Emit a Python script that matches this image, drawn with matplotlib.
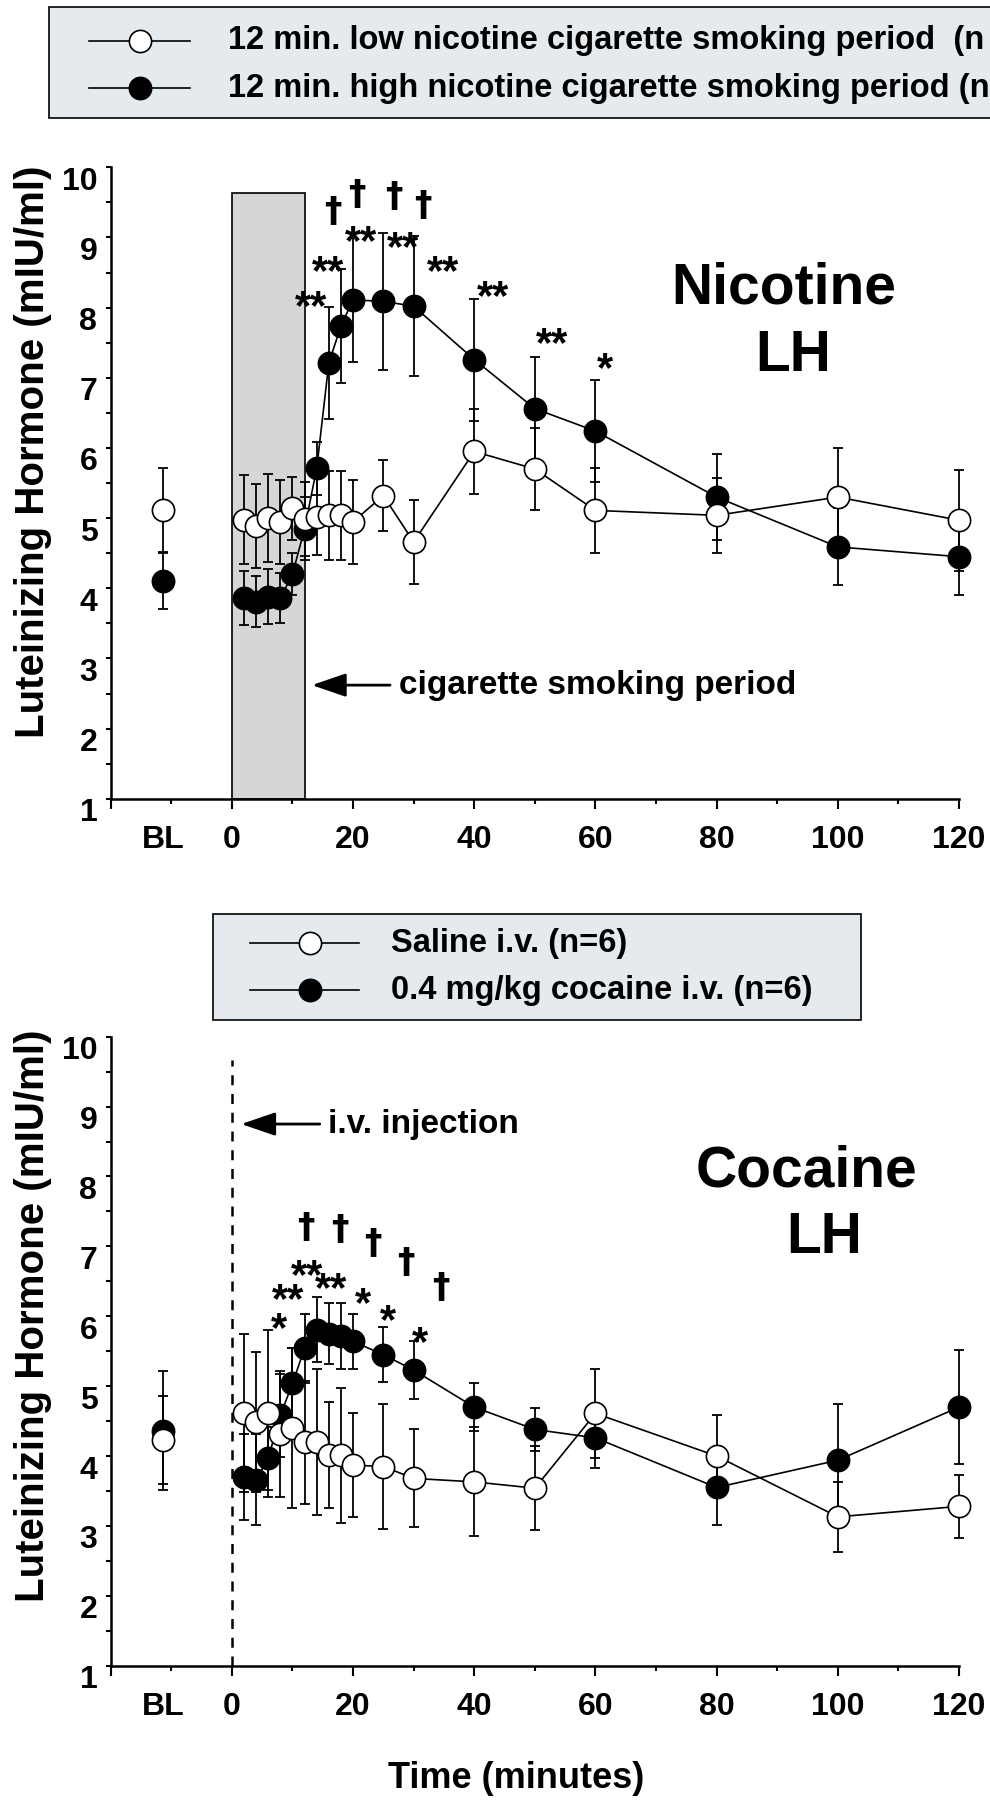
import matplotlib
matplotlib.use('Agg')
import matplotlib.pyplot as plt
import matplotlib.transforms as mtransforms
from matplotlib.patches import Rectangle
import numpy as np

plt.rcParams['font.family'] = ['Liberation Sans', 'DejaVu Sans']
plt.rcParams['font.weight'] = 'bold'

# ---------------- data ----------------
times = [2, 4, 6, 8, 10, 12, 14, 16, 18, 20, 25, 30, 40, 50, 60, 80, 100, 120]
BL_X = -11.3
xtick_vals = [-20, 0, 20, 40, 60, 80, 100, 120]
xtick_labels = ['', '0', '20', '40', '60', '80', '100', '120']
ytick_vals = [1, 2, 3, 4, 5, 6, 7, 8, 9, 10]

# Nicotine panel
low_nic_bl, low_nic_bl_err = 5.11, 0.60
low_nic = [4.98, 4.89, 5.00, 4.95, 5.14, 4.99, 5.02, 5.04, 5.04, 4.95, 5.32, 4.66,
           5.95, 5.70, 5.11, 5.04, 5.30, 4.97]
low_nic_err = [0.63, 0.60, 0.63, 0.60, 0.45, 0.53, 0.55, 0.63, 0.63, 0.60, 0.51, 0.60,
               0.61, 0.58, 0.60, 0.53, 0.70, 0.72]
high_nic_bl, high_nic_bl_err = 4.11, 0.41
high_nic = [3.86, 3.81, 3.88, 3.86, 4.20, 4.85, 5.71, 7.21, 7.74, 8.11, 8.09, 8.02,
            7.26, 6.56, 6.24, 5.30, 4.59, 4.45]
high_nic_err = [0.39, 0.36, 0.39, 0.36, 0.30, 0.45, 0.38, 0.80, 0.81, 0.88, 0.98, 1.00,
                0.87, 0.73, 0.73, 0.61, 0.55, 0.55]

# Cocaine panel
saline_bl, saline_bl_err = 4.23, 0.63
saline = [4.61, 4.49, 4.61, 4.32, 4.40, 4.20, 4.20, 4.01, 4.01, 3.87, 3.85, 3.68,
          3.63, 3.54, 4.61, 4.00, 3.13, 3.28]
saline_err = [1.13, 1.00, 1.20, 0.90, 1.15, 0.88, 1.04, 0.76, 0.97, 0.74, 0.90, 0.70,
              0.78, 0.60, 0.64, 0.58, 0.50, 0.45]
cocaine_bl, cocaine_bl_err = 4.36, 0.85
cocaine = [3.70, 3.66, 3.97, 4.58, 5.04, 5.54, 5.81, 5.75, 5.72, 5.64, 5.45, 5.23,
           4.70, 4.38, 4.26, 3.55, 3.94, 4.70]
cocaine_err = [0.62, 0.65, 0.45, 0.60, 0.50, 0.49, 0.46, 0.44, 0.47, 0.39, 0.39, 0.41,
               0.34, 0.31, 0.43, 0.53, 0.80, 0.82]

# significance marks (time, value of mark centre)
top_star_t = [13.1, 15.9, 21.4, 28.2, 34.8, 43.1, 52.8, 61.6]
top_star_y = [8.18, 8.68, 9.11, 9.02, 8.68, 8.32, 7.66, 7.30]
top_star_txt = ['**', '**', '**', '**', '**', '**', '**', '*']
top_dag_t = [16.7, 20.6, 26.7, 31.5]
top_dag_y = [9.37, 9.60, 9.57, 9.45]

bot_star_t = [7.7, 9.3, 12.4, 16.3, 21.6, 25.7, 31.1]
bot_star_y = [6.00, 6.41, 6.75, 6.56, 6.35, 6.11, 5.79]
bot_star_txt = ['*', '**', '**', '**', '*', '*', '*']
bot_dag_t = [12.2, 17.8, 23.2, 28.7, 34.5]
bot_dag_y = [7.26, 7.23, 7.04, 6.76, 6.40]

legend_top = ['12 min. low nicotine cigarette smoking period  (n',
              '12 min. high nicotine cigarette smoking period (n']
legend_bot = ['Saline i.v. (n=6)', '0.4 mg/kg cocaine i.v. (n=6)']

# ---------------- figure ----------------
W, H = 990, 1803
fig = plt.figure(figsize=(W / 100, H / 100), dpi=100)

def px_axes(x0, x1, ytop, ybot):
    return fig.add_axes([x0 / W, 1 - ybot / H, (x1 - x0) / W, (ybot - ytop) / H])

ax1 = px_axes(110.7, 959, 167.3, 798.8)
ax2 = px_axes(110.7, 959, 1036.7, 1665.7)

TICK_FS = 23

def style(ax):
    ax.set_xlim(-20, 120)
    ax.set_ylim(1, 10)
    for s in ['top', 'right']:
        ax.spines[s].set_visible(False)
    for s in ['left', 'bottom']:
        ax.spines[s].set_linewidth(1.8)
    ax.set_xticks(xtick_vals)
    ax.set_xticklabels(xtick_labels)
    ax.set_xticks(np.arange(-10, 120, 20), minor=True)
    ax.set_yticks(ytick_vals)
    ax.set_yticklabels([str(v) for v in ytick_vals])
    ax.set_yticks(np.arange(1.5, 10, 1), minor=True)
    ax.tick_params(axis='x', which='major', length=7.2, width=1.5, pad=12, labelsize=TICK_FS)
    ax.tick_params(axis='x', which='minor', length=3.6, width=1.5)
    ax.tick_params(axis='y', which='both', length=3.6, width=1.5, pad=6, labelsize=TICK_FS)
    off = mtransforms.ScaledTranslation(0, -0.11, fig.dpi_scale_trans)
    for lab in ax.get_yticklabels():
        lab.set_transform(lab.get_transform() + off)
        lab.set_fontweight('bold')
    for lab in ax.get_xticklabels():
        lab.set_fontweight('bold')
    ax.annotate('BL', xy=(BL_X, 0), xycoords=('data', 'axes fraction'),
                xytext=(0, -(7.2 + 12)), textcoords='offset points',
                ha='center', va='top', fontsize=TICK_FS, fontweight='bold')

def series(ax, x, y, e, bx, by, be, filled, z):
    fc = 'black' if filled else 'white'
    for xx, yy, ee in [(x, y, e), ([bx], [by], [be])]:
        eb = ax.errorbar(xx, yy, yerr=ee, fmt='none', ecolor='black', elinewidth=1.3,
                         capsize=3.8, capthick=1.3, zorder=z)
        for ch in eb.get_children():
            ch.set_clip_on(False)
    ax.plot(x, y, '-', color='black', lw=1.2, marker='o', ms=16, mfc=fc,
            mec='black', mew=1.2, zorder=z + 0.5, clip_on=False)
    ax.plot([bx], [by], linestyle='none', marker='o', ms=16, mfc=fc,
            mec='black', mew=1.2, zorder=z + 0.5, clip_on=False)

def marks(ax, st, sy, stxt, dt, dy):
    fs = 30
    for t, v, s in zip(st, sy, stxt):
        ax.annotate(s, xy=(t, v), xytext=(0, -0.32 * fs), textcoords='offset points',
                    ha='center', va='center', fontsize=fs, fontweight='bold', zorder=6)
    for t, v in zip(dt, dy):
        ax.text(t, v, '\u2020', ha='center', va='center', fontsize=25,
                fontweight='bold', family=['DejaVu Sans'], zorder=6)

# ---- top panel ----
style(ax1)
ax1.add_patch(Rectangle((0, 1), 12, 8.64, facecolor='#d6d6d6', edgecolor='black',
                        lw=1.2, zorder=1))
series(ax1, times, high_nic, high_nic_err, BL_X, high_nic_bl, high_nic_bl_err, True, 3)
series(ax1, times, low_nic, low_nic_err, BL_X, low_nic_bl, low_nic_bl_err, False, 4)
marks(ax1, top_star_t, top_star_y, top_star_txt, top_dag_t, top_dag_y)
ax1.text(91.0, 8.06, 'Nicotine', fontsize=41, ha='center', va='baseline', fontweight='bold')
ax1.text(92.7, 7.09, 'LH', fontsize=41, ha='center', va='baseline', fontweight='bold')
ax1.annotate('', xy=(13.2, 2.62), xytext=(26.1, 2.62),
             arrowprops=dict(arrowstyle='-|>,head_length=1.05,head_width=0.36',
                             mutation_scale=20, lw=2.0, color='black',
                             shrinkA=0, shrinkB=0))
ax1.text(27.6, 2.62, 'cigarette smoking period', fontsize=24, ha='left',
         va='center', fontweight='bold')

# ---- bottom panel ----
style(ax2)
ax2.plot([0, 0], [1, 9.67], color='black', lw=1.8, ls=(0, (4, 3.5)), zorder=1)
series(ax2, times, cocaine, cocaine_err, BL_X, cocaine_bl, cocaine_bl_err, True, 3)
series(ax2, times, saline, saline_err, BL_X, saline_bl, saline_bl_err, False, 4)
marks(ax2, bot_star_t, bot_star_y, bot_star_txt, bot_dag_t, bot_dag_y)
ax2.text(94.8, 7.86, 'Cocaine', fontsize=41, ha='center', va='baseline', fontweight='bold')
ax2.text(97.8, 6.90, 'LH', fontsize=41, ha='center', va='baseline', fontweight='bold')
ax2.annotate('', xy=(1.55, 8.75), xytext=(14.5, 8.75),
             arrowprops=dict(arrowstyle='-|>,head_length=1.05,head_width=0.36',
                             mutation_scale=20, lw=2.0, color='black',
                             shrinkA=0, shrinkB=0))
ax2.text(15.8, 8.75, 'i.v. injection', fontsize=24, ha='left', va='center',
         fontweight='bold')

# ---- axis titles ----
fig.text(33 / W, 1 - 452 / H, 'Luteinizing Hormone (mIU/ml)', rotation=90,
         ha='center', va='center', fontsize=29, fontweight='bold')
fig.text(33 / W, 1 - 1316 / H, 'Luteinizing Hormone (mIU/ml)', rotation=90,
         ha='center', va='center', fontsize=29, fontweight='bold')
fig.text(516 / W, 1 - 1779 / H, 'Time (minutes)', ha='center', va='center',
         fontsize=26, fontweight='bold')

# ---- legends (overlay in pixel coordinates) ----
ov = fig.add_axes([0, 0, 1, 1])
ov.set_xlim(0, W)
ov.set_ylim(H, 0)
ov.axis('off')
LEG_BG = '#e4eaee'
ov.add_patch(Rectangle((49, 7), 1000, 111, facecolor=LEG_BG, edgecolor='black',
                       lw=1.2, clip_on=False))
for yy, fc, txt in [(41, 'white', legend_top[0]), (88, 'black', legend_top[1])]:
    ov.plot([89, 190], [yy, yy], color='black', lw=1.2)
    ov.plot([139.5], [yy], marker='o', ms=16, mfc=fc, mec='black', mew=1.2)
    ov.text(228, yy, txt, fontsize=23.5, ha='left', va='center', fontweight='bold')

ov.add_patch(Rectangle((212.6, 914), 648.4, 106, facecolor=LEG_BG, edgecolor='black',
                       lw=1.2))
for yy, fc, txt in [(943.3, 'white', legend_bot[0]), (990, 'black', legend_bot[1])]:
    ov.plot([250, 359], [yy, yy], color='black', lw=1.2)
    ov.plot([309.8], [yy], marker='o', ms=16, mfc=fc, mec='black', mew=1.2)
    ov.text(391, yy, txt, fontsize=23.5, ha='left', va='center', fontweight='bold')

fig.savefig('out.png', dpi=100)
